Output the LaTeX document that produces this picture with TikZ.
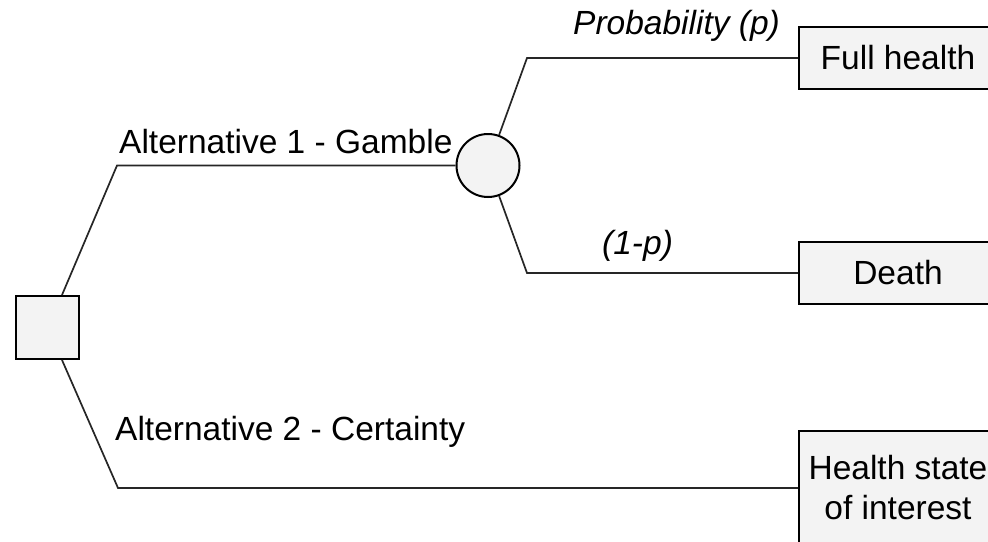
\documentclass[tikz,border=0pt]{standalone}
\usepackage{fontspec}
\setmainfont{Liberation Sans}
\definecolor{boxfill}{HTML}{F3F3F3}
\definecolor{linec}{HTML}{262626}
\begin{document}
\begin{tikzpicture}[x=1pt,y=-1pt,
  shapebox/.style={draw=black, fill=boxfill, line width=2pt, inner sep=0pt},
  decbox/.style={shapebox, rectangle, minimum size=63pt},
  chancenode/.style={shapebox, circle, minimum size=63pt},
  outcomebox/.style={shapebox, rectangle, minimum width=198pt, align=center},
  conn/.style={draw=linec, line width=1.7pt, line join=miter},
  lbl/.style={inner sep=0pt, anchor=base west, font=\fontsize{33.5}{38}\selectfont},
  every node/.append style={font=\fontsize{33.5}{40}\selectfont}
]
\useasboundingbox (0,0) rectangle (988,541);
\clip (0,0) rectangle (988,541);

\node[decbox] (sq) at (47,327.5) {};
\node[chancenode] (ci) at (488,165.5) {};
\node[outcomebox, minimum height=62pt] (fh) at (898,58) {Full health};
\node[outcomebox, minimum height=62pt] (de) at (898,273) {Death};
\node[outcomebox, minimum height=114pt] (hs) at (898,488) {Health state\\of interest};

\coordinate (k1) at (117,165.5);
\coordinate (k2) at (118,488);
\coordinate (k3) at (527,58);
\coordinate (k4) at (527,273);

\draw[conn] ([xshift=15pt]sq.north) -- (k1) -- (ci.west);
\draw[conn] ([xshift=15pt]sq.south) -- (k2) -- (hs.west);
\draw[conn] (ci.70) -- (k3) -- (fh.west);
\draw[conn] (ci.-70) -- (k4) -- (de.west);

\node[lbl] (t1) at (119,153) {Alternative 1 - Gamble};
\node[lbl] (t2) at (115,440) {Alternative 2 - Certainty};
\node[lbl] (t3) at (573,34) {\itshape Probability (p)};
\node[lbl] (t4) at (602,254) {\itshape (1-p)};
\end{tikzpicture}
\end{document}
